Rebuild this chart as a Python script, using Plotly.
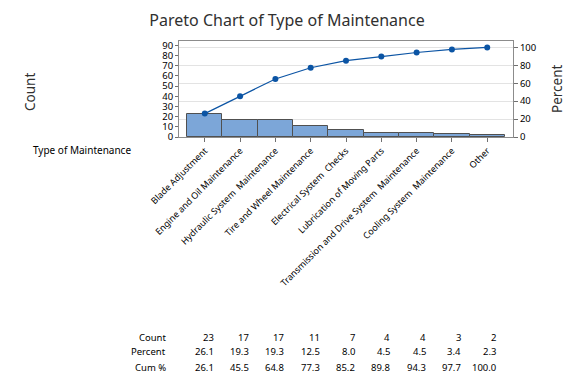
import plotly.graph_objects as go

categories = ["Blade Adjustment", "Engine and Oil Maintenance", "Hydraulic System  Maintenance",
              "Tire and Wheel Maintenance", "Electrical System  Checks", "Lubrication of Moving Parts",
              "Transmission and Drive System  Maintenance", "Cooling System  Maintenance", "Other"]
counts = [23, 17, 17, 11, 7, 4, 4, 3, 2]
percents = [26.1, 19.3, 19.3, 12.5, 8.0, 4.5, 4.5, 3.4, 2.3]
cum_pct = [26.1, 45.5, 64.8, 77.3, 85.2, 89.8, 94.3, 97.7, 100.0]
count_ticks = [0, 10, 20, 30, 40, 50, 60, 70, 80, 90]
pct_ticks = [0, 20, 40, 60, 80, 100]

FONT = "Noto Sans"
TXT = "#303030"
total = sum(counts)
ytop = 94.3
x = list(range(len(categories)))

# page body has an 8px margin, so the figure is 8px smaller and its margins shifted
W, H = 568, 376
ML, MR, MT, MB = 171, 63, 33, 247
PW = W - ML - MR
PH = H - MT - MB


def px_x(px):  # window px -> paper x
    return (px - 8 - ML) / PW


def px_y(py):  # window px -> paper y
    return ((H - MB) - (py - 8)) / PH


fig = go.Figure()
fig.add_trace(go.Bar(x=x, y=counts, marker=dict(color="#7CA6D8", line=dict(color="#505050", width=1)),
                     width=1.0, yaxis="y", showlegend=False))
fig.add_trace(go.Scatter(x=x, y=cum_pct, mode="lines+markers", yaxis="y2",
                         line=dict(color="#0B54A4", width=1.2),
                         marker=dict(color="#0B54A4", size=6), showlegend=False))

ann = []
ann.append(dict(text="Count", xref="paper", yref="paper", x=px_x(30), y=px_y(92), textangle=-90,
                xanchor="center", yanchor="middle",
                showarrow=False, font=dict(size=13.5, color=TXT, family=FONT)))
ann.append(dict(text="Percent", xref="paper", yref="paper", x=px_x(557), y=px_y(89), textangle=-90,
                xanchor="center", yanchor="middle",
                showarrow=False, font=dict(size=13.5, color=TXT, family=FONT)))
ann.append(dict(text="Type of Maintenance", xref="paper", yref="paper", x=px_x(133), y=px_y(150),
                xanchor="right", yanchor="middle", showarrow=False,
                font=dict(size=10, color="#000000", family=FONT)))
rows = [("Count", [str(c) for c in counts], 337),
        ("Percent", [f"{p:.1f}" for p in percents], 351.5),
        ("Cum %", [f"{p:.1f}" for p in cum_pct], 367)]
for label, vals, py in rows:
    yy = px_y(py)
    ann.append(dict(text=label, xref="paper", yref="paper", x=px_x(168), y=yy, xanchor="right",
                    yanchor="middle", showarrow=False, font=dict(size=9.5, color="#000000", family=FONT)))
    for i, v in enumerate(vals):
        ann.append(dict(text=v, xref="x", yref="paper", x=i + 0.31, y=yy, xanchor="right",
                        yanchor="middle", showarrow=False, font=dict(size=9.5, color="#000000", family=FONT)))

fig.update_layout(
    width=W, height=H,
    margin=dict(l=ML, r=MR, t=MT, b=MB),
    paper_bgcolor="white", plot_bgcolor="white",
    bargap=0,
    title=dict(text="Pareto Chart of Type of Maintenance", x=(287 - 8) / W,
               xanchor="center", y=1 - 12 / H, yanchor="middle",
               font=dict(size=16, color=TXT, family=FONT)),
    xaxis=dict(range=[-0.73, 8.73], tickmode="array", tickvals=x, ticktext=categories,
               tickangle=-45, ticks="outside", ticklen=4, tickcolor="#707070",
               showline=True, linecolor="#8C8C8C", mirror=True, showgrid=False, automargin=False,
               tickfont=dict(size=9, color="#000000", family=FONT)),
    yaxis=dict(range=[0, ytop], tickvals=count_ticks, ticks="outside", ticklen=3, tickcolor="#707070",
               showline=True, linecolor="#8C8C8C", mirror=True, showgrid=False, zeroline=False,
               automargin=False, tickfont=dict(size=9.5, color="#000000", family=FONT)),
    yaxis2=dict(range=[0, ytop / total * 100], tickvals=pct_ticks, overlaying="y", side="right",
                ticks="outside", ticklen=4, tickcolor="#707070", showline=False,
                showgrid=True, gridcolor="#E3E3E3", zeroline=False, automargin=False,
                tickfont=dict(size=9.5, color="#000000", family=FONT)),
    annotations=ann,
    shapes=[dict(type="line", xref="paper", yref="paper", x0=px_x(574), x1=px_x(574),
                 y0=px_y(0), y1=px_y(384), line=dict(color="#D0D0D0", width=1))],
)
fig.write_html("out.html")
